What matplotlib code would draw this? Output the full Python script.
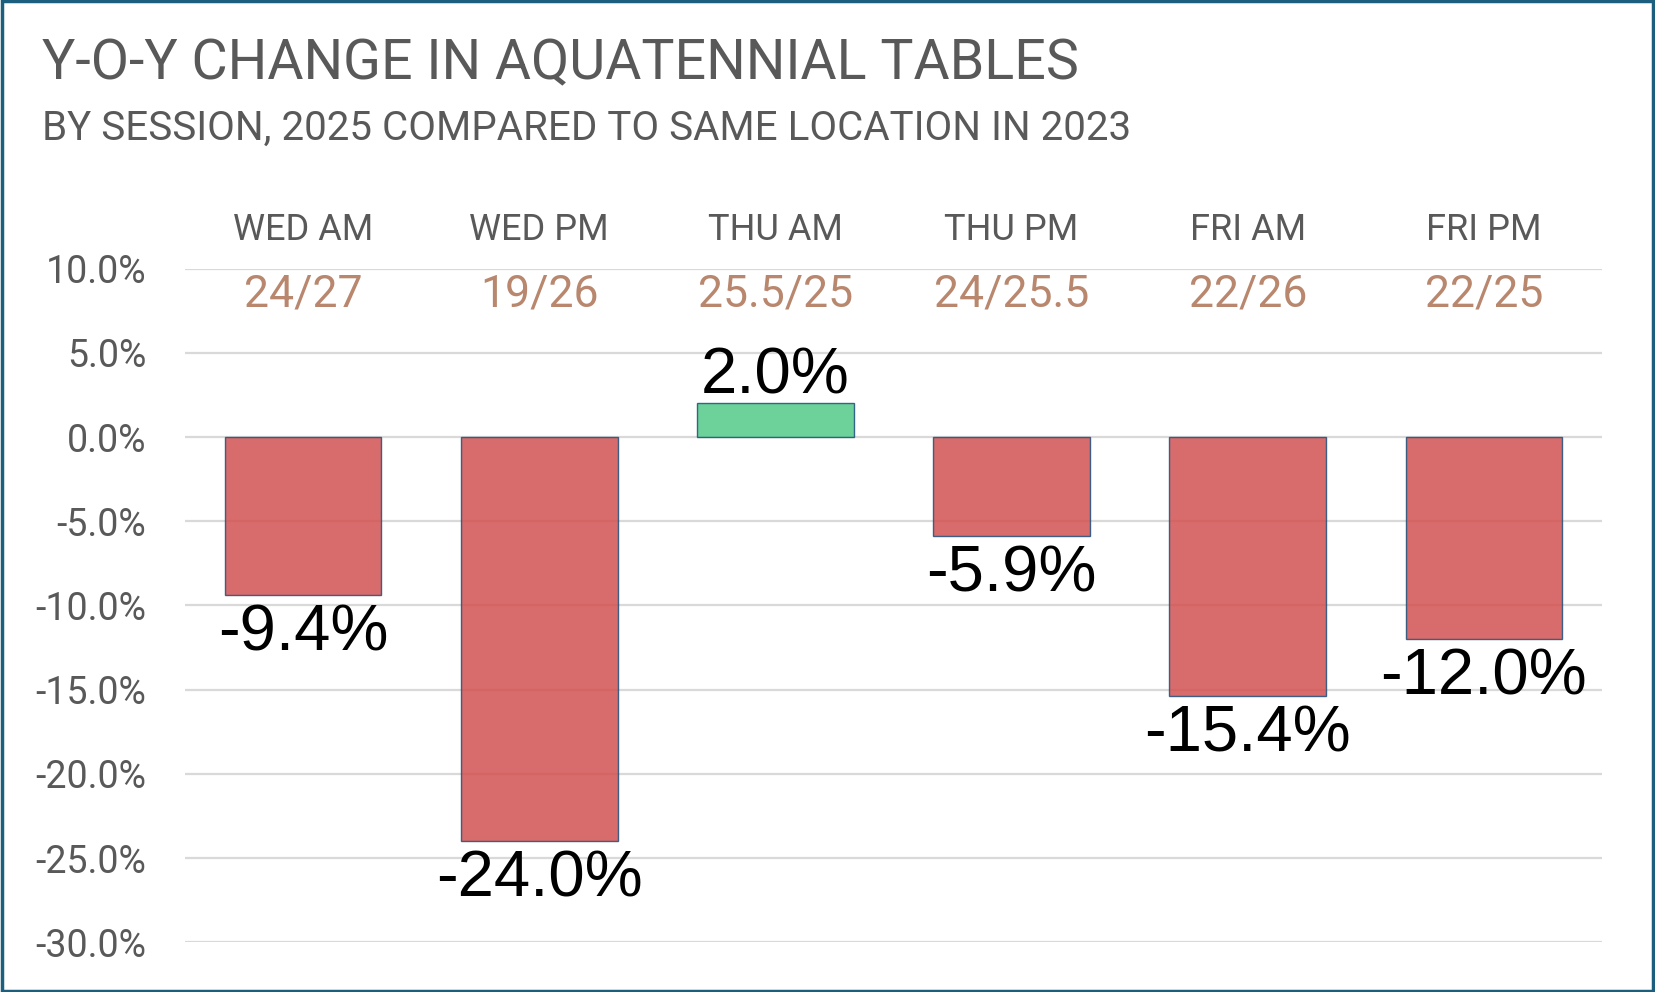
#!/usr/bin/env python3
import matplotlib
matplotlib.use('Agg')
from matplotlib import pyplot as plt
from matplotlib.patches import Rectangle
from matplotlib.ticker import FuncFormatter

sessions = ['WED AM', 'WED PM', 'THU AM', 'THU PM', 'FRI AM', 'FRI PM']
ratios = ['24/27', '19/26', '25.5/25', '24/25.5', '22/26', '22/25']
changes = [-9.4, -24.0, 2.0, -5.9, -15.4, -12.0]
yticks = [10, 5, 0, -5, -10, -15, -20, -25, -30]

title = 'Y-O-Y CHANGE IN AQUATENNIAL TABLES'
subtitle = 'BY SESSION, 2025 COMPARED TO SAME LOCATION IN 2023'

narrow = ['Roboto', 'DejaVu Sans']
gray = '#595959'
tan = '#B8876E'
red = '#D25151'
green = '#52CB89'

def plot(out):
	fig = plt.figure(figsize=(16.55, 9.92), dpi=100)
	ax = fig.add_axes([0.1118, 0.0502, 0.8562, 0.6790])
	x = list(range(len(sessions)))
	colors = [green if v > 0 else red for v in changes]
	ax.bar(x, changes, width=0.663, color=colors, alpha=0.85,
		edgecolor='#1F4E79', linewidth=1.0, zorder=2)
	ax.set_xlim(-0.5, len(sessions) - 0.5)
	ax.set_ylim(-30, 10)
	ax.set_yticks(yticks)
	ax.yaxis.set_major_formatter(FuncFormatter(lambda v, p: '%.1f%%' % v))
	ax.grid(axis='y', color='#D9D9D9', linewidth=1.6, zorder=0)
	ax.set_axisbelow(True)
	ax.set_xticks([])
	for s in ax.spines.values():
		s.set_visible(False)
	ax.tick_params(axis='y', length=0, pad=28, labelcolor=gray, labelsize=27)
	for lab in ax.get_yticklabels():
		lab.set_family(narrow)

	for i, v in enumerate(changes):
		if v >= 0:
			ax.annotate('%.1f%%' % v, (i, v), xytext=(0, -2), textcoords='offset points',
				ha='center', va='bottom', fontsize=47, family='Liberation Sans', color='black')
		else:
			ax.annotate('%.1f%%' % v, (i, v), xytext=(0, -6), textcoords='offset points',
				ha='center', va='top', fontsize=47, family='Liberation Sans', color='black')

	trans = ax.get_xaxis_transform()
	for i, (s, r) in enumerate(zip(sessions, ratios)):
		ax.text(i, 1.057, s, transform=trans, ha='center', va='center',
			fontsize=26, color=gray, family=narrow)
		ax.text(i, 0.962, r, transform=trans, ha='center', va='center',
			fontsize=32, color=tan, family=narrow)

	fig.text(0.0254, 0.920, title, ha='left', va='baseline', fontsize=40,
		color=gray, family=narrow)
	fig.text(0.0254, 0.859, subtitle, ha='left', va='baseline', fontsize=29,
		color=gray, family=narrow)

	fig.patches.append(Rectangle((0.001, 0.001), 0.998, 0.998, transform=fig.transFigure,
		fill=False, edgecolor='#1B5E7E', linewidth=2.5))
	fig.savefig(out, dpi=100)

def main():
	plot('out.png')

if __name__ == '__main__':
	main()
